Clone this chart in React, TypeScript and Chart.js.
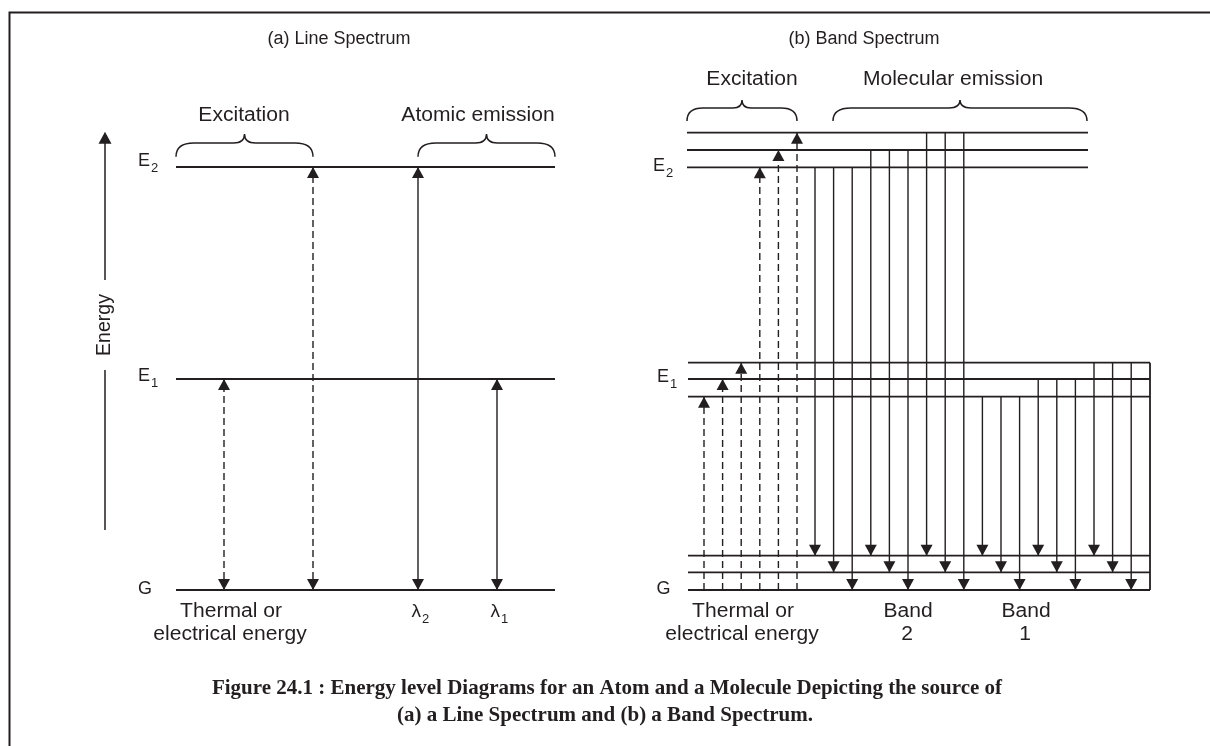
import React, { useEffect, useRef } from 'react';
import { Chart, registerables } from 'chart.js';

Chart.register(...registerables);

// ---------- DATA (energy in arbitrary units: G = 0; x = position along the diagram) ----------
// (a) Line spectrum: atom levels
const atomLevelNames = ['G', 'E1', 'E2'];
const atomLevelEnergy = [0, 211, 423];
const atomArrowX = [224, 313, 418, 497];
const atomArrowTop = [211, 423, 423, 211];
const atomArrowDashed = [true, true, false, false];
const atomLineLabels = ['', '', '2', '1'];

// (b) Band spectrum: molecule sub-levels (lowest -> highest inside each group)
const molGround = [0, 17.7, 34.3];
const molE1 = [193.3, 211, 227.3];
const molE2 = [422.7, 440, 457.3];

// excitation (dashed, from lowest ground sub-level up)
const excitationX = [704, 722.6, 741.2, 759.8, 778.4, 797];
const excitationTop = [193.3, 211, 227.3, 422.7, 440, 457.3];

// Band 2 (from E2 sub-levels)
const band2X = [815, 833.6, 852.2, 870.8, 889.4, 908, 926.6, 945.2, 963.8];
const band2From = [422.7, 422.7, 422.7, 440, 440, 440, 457.3, 457.3, 457.3];
const band2To = [34.3, 17.7, 0, 34.3, 17.7, 0, 34.3, 17.7, 0];

// Band 1 (from E1 sub-levels)
const band1X = [982.4, 1001, 1019.6, 1038.2, 1056.8, 1075.4, 1094, 1112.6, 1131.2];
const band1From = [193.3, 193.3, 193.3, 211, 211, 211, 227.3, 227.3, 227.3];
const band1To = [34.3, 17.7, 0, 34.3, 17.7, 0, 34.3, 17.7, 0];

// ---------- LAYOUT / STYLE ----------
const INK = '#231f20';
const SANS = '"Liberation Sans", Arial, Helvetica, sans-serif';
const SERIF = '"Liberation Serif", "Times New Roman", serif';

const ATOM_X0 = 176, ATOM_X1 = 555;
const MOL_X0 = 688, MOL_E2_X1 = 1088, MOL_X1 = 1150;
const AXIS_X = 105;

type P = { x: number | null; y: number | null };
const seg = (x0: number, y0: number, x1: number, y1: number): P[] => [
  { x: x0, y: y0 },
  { x: x1, y: y1 },
  { x: null, y: null },
];

function buildLevels(): P[] {
  const pts: P[] = [];
  atomLevelEnergy.forEach((e) => pts.push(...seg(ATOM_X0, e, ATOM_X1, e)));
  molGround.forEach((e) => pts.push(...seg(MOL_X0, e, MOL_X1, e)));
  molE1.forEach((e) => pts.push(...seg(MOL_X0, e, MOL_X1, e)));
  molE2.forEach((e) => pts.push(...seg(MOL_X0 - 1, e, MOL_E2_X1, e)));
  pts.push(...seg(MOL_X1, 0, MOL_X1, molE1[2]));
  return pts;
}

function buildSolid(): P[] {
  const pts: P[] = [];
  atomArrowX.forEach((x, i) => {
    if (!atomArrowDashed[i]) pts.push(...seg(x, 0, x, atomArrowTop[i]));
  });
  band2X.forEach((x, i) => pts.push(...seg(x, band2From[i], x, band2To[i])));
  band1X.forEach((x, i) => pts.push(...seg(x, band1From[i], x, band1To[i])));
  return pts;
}

function buildDashed(): P[] {
  const pts: P[] = [];
  atomArrowX.forEach((x, i) => {
    if (atomArrowDashed[i]) pts.push(...seg(x, 0, x, atomArrowTop[i]));
  });
  excitationX.forEach((x, i) => pts.push(...seg(x, 0, x, excitationTop[i])));
  return pts;
}

// energy axis: lower part and upper part (gap for the "Energy" label)
function buildAxis(): P[] {
  return [...seg(AXIS_X, 60, AXIS_X, 220), ...seg(AXIS_X, 310, AXIS_X, 447)];
}

function text(
  ctx: CanvasRenderingContext2D,
  str: string,
  x: number,
  y: number,
  size: number,
  o: { align?: CanvasTextAlign; bold?: boolean; serif?: boolean; sx?: number; rot?: number; base?: CanvasTextBaseline } = {}
) {
  const { align = 'center', bold = false, serif = false, sx = 1, rot = 0, base = 'middle' } = o;
  ctx.save();
  ctx.translate(x, y);
  if (rot) ctx.rotate(rot);
  ctx.scale(sx, 1);
  ctx.font = `${bold ? 'bold ' : ''}${size}px ${serif ? SERIF : SANS}`;
  ctx.textAlign = align;
  ctx.textBaseline = base;
  ctx.fillStyle = INK;
  ctx.fillText(str, 0, 0);
  ctx.restore();
}

function subLabel(ctx: CanvasRenderingContext2D, main: string, sub: string, x: number, y: number, size: number) {
  ctx.save();
  ctx.font = `${size}px ${SANS}`;
  const w = ctx.measureText(main).width;
  ctx.restore();
  text(ctx, main, x, y, size, { align: 'left' });
  if (sub) text(ctx, sub, x + w + 1, y + 7, 13, { align: 'left' });
}

function head(ctx: CanvasRenderingContext2D, x: number, y: number, up: boolean, w = 12, h = 11) {
  ctx.beginPath();
  ctx.moveTo(x, y);
  ctx.lineTo(x - w / 2, up ? y + h : y - h);
  ctx.lineTo(x + w / 2, up ? y + h : y - h);
  ctx.closePath();
  ctx.fill();
}

function brace(ctx: CanvasRenderingContext2D, x0: number, x1: number, yEnd: number, yFlat: number, yPeak: number, rEnd: number, rPeak: number) {
  const xm = (x0 + x1) / 2;
  ctx.beginPath();
  ctx.moveTo(x0, yEnd);
  ctx.quadraticCurveTo(x0, yFlat, x0 + rEnd, yFlat);
  ctx.lineTo(xm - rPeak, yFlat);
  ctx.quadraticCurveTo(xm, yFlat, xm, yPeak);
  ctx.quadraticCurveTo(xm, yFlat, xm + rPeak, yFlat);
  ctx.lineTo(x1 - rEnd, yFlat);
  ctx.quadraticCurveTo(x1, yFlat, x1, yEnd);
  ctx.stroke();
}

const diagramPlugin = {
  id: 'diagram',
  afterDatasetsDraw(chart: any) {
    const ctx: CanvasRenderingContext2D = chart.ctx;
    const X = (v: number) => chart.scales.x.getPixelForValue(v);
    const Y = (v: number) => chart.scales.y.getPixelForValue(v);
    ctx.save();
    ctx.fillStyle = INK;
    ctx.strokeStyle = INK;

    // frame
    ctx.lineWidth = 2;
    ctx.beginPath();
    ctx.moveTo(X(9.5), Y(-160));
    ctx.lineTo(X(9.5), Y(577.5));
    ctx.lineTo(X(1215), Y(577.5));
    ctx.stroke();

    // arrowheads: atom
    atomArrowX.forEach((x, i) => {
      head(ctx, X(x), Y(atomArrowTop[i]), true);
      head(ctx, X(x), Y(0), false);
    });
    // excitation (molecule)
    excitationX.forEach((x, i) => head(ctx, X(x), Y(excitationTop[i]), true));
    // emission bands
    band2X.forEach((x, i) => head(ctx, X(x), Y(band2To[i]), false));
    band1X.forEach((x, i) => head(ctx, X(x), Y(band1To[i]), false));
    // energy axis
    head(ctx, X(AXIS_X), Y(458.3), true, 13, 12);

    // braces
    ctx.lineWidth = 1.5;
    brace(ctx, X(176), X(313), Y(433.3), Y(447), Y(456), 18, 11);
    brace(ctx, X(418), X(555), Y(433.3), Y(447), Y(456), 18, 11);
    brace(ctx, X(687), X(797), Y(469), Y(482), Y(490), 16, 9);
    brace(ctx, X(833), X(1087), Y(469), Y(482), Y(490), 18, 11);

    // titles
    text(ctx, '(a) Line Spectrum', X(339), Y(551.3), 18);
    text(ctx, '(b) Band Spectrum', X(864), Y(551.3), 18);
    // brace labels
    const L = 19.5, SX = 1.08;
    text(ctx, 'Excitation', X(244), Y(474), L, { sx: SX });
    text(ctx, 'Atomic emission', X(478), Y(474), L, { sx: SX });
    text(ctx, 'Excitation', X(752), Y(510), L, { sx: SX });
    text(ctx, 'Molecular emission', X(953), Y(510), L, { sx: SX });

    // energy axis label
    text(ctx, 'Energy', X(AXIS_X), Y(265), L, { rot: -Math.PI / 2 });

    // level labels
    const atomLabelY = [0.5, 214, 429];
    atomLevelNames.forEach((n, i) => {
      subLabel(ctx, n.charAt(0), n.slice(1), X(138), Y(atomLabelY[i]), 18);
    });
    subLabel(ctx, 'E', '2', X(653), Y(424), 18);
    subLabel(ctx, 'E', '1', X(657), Y(213), 18);
    subLabel(ctx, 'G', '', X(656.5), Y(0.5), 18);

    // bottom labels (a)
    text(ctx, 'Thermal or', X(231), Y(-21.5), L, { sx: SX });
    text(ctx, 'electrical energy', X(230), Y(-45), L, { sx: SX });
    atomArrowX.forEach((x, i) => {
      if (atomLineLabels[i]) subLabel(ctx, 'λ', atomLineLabels[i], X(x - 6.5), Y(-22), 19);
    });
    // bottom labels (b)
    text(ctx, 'Thermal or', X(743), Y(-21.5), L, { sx: SX });
    text(ctx, 'electrical energy', X(742), Y(-45), L, { sx: SX });
    text(ctx, 'Band', X(908), Y(-21.5), L, { sx: SX });
    text(ctx, '2', X(907), Y(-45), L, { sx: SX });
    text(ctx, 'Band', X(1026), Y(-21.5), L, { sx: SX });
    text(ctx, '1', X(1025), Y(-45), L, { sx: SX });

    // caption
    text(ctx, 'Figure 24.1 : Energy level Diagrams for an Atom and a Molecule Depicting the source of', X(607), Y(-104), 21, { bold: true, serif: true, base: 'alphabetic' });
    text(ctx, '(a) a Line Spectrum and (b) a Band Spectrum.', X(605), Y(-131), 21, { bold: true, serif: true, base: 'alphabetic' });

    ctx.restore();
  },
};

export default function App() {
  const ref = useRef<HTMLCanvasElement>(null);
  useEffect(() => {
    if (!ref.current) return;
    const line = (data: P[], width: number, dash: number[] = []) => ({
      data,
      showLine: true,
      spanGaps: false,
      borderColor: INK,
      borderWidth: width,
      borderDash: dash,
      pointRadius: 0,
      pointHoverRadius: 0,
      fill: false,
      tension: 0,
    });
    const chart = new Chart(ref.current, {
      type: 'scatter',
      data: {
        datasets: [
          line(buildLevels(), 1.8),
          line(buildAxis(), 1.5),
          line(buildSolid(), 1.4),
          line(buildDashed(), 1.4, [7, 4]),
        ] as any,
      },
      options: {
        responsive: false,
        animation: false,
        events: [],
        layout: { padding: 0 },
        plugins: { legend: { display: false }, tooltip: { enabled: false }, title: { display: false } },
        scales: {
          x: { type: 'linear', min: 0, max: 1210, display: false },
          y: { type: 'linear', min: -156, max: 590, display: false },
        },
      },
      plugins: [diagramPlugin],
    });
    return () => chart.destroy();
  }, []);
  return (
    <div style={{ position: 'absolute', left: 0, top: 0, width: 1210, height: 746, background: '#fff' }}>
      <canvas ref={ref} width={1210} height={746} style={{ display: 'block' }} />
    </div>
  );
}
